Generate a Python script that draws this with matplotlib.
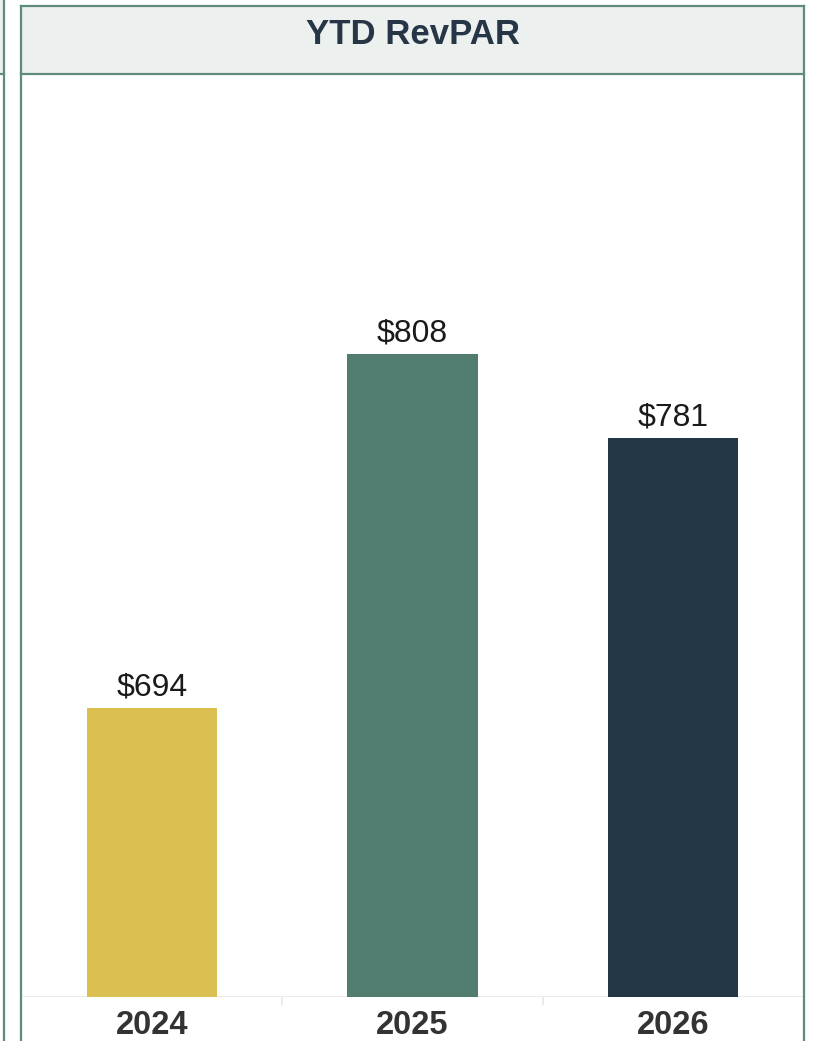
import matplotlib
matplotlib.use("Agg")
import matplotlib.pyplot as plt
from matplotlib.patches import Rectangle
from matplotlib.lines import Line2D

# Data
years = ["2024", "2025", "2026"]
revpar = [694, 808, 781]
value_labels = ["$694", "$808", "$781"]
bar_colors = ["#DBBF50", "#537C71", "#233646"]
title = "YTD RevPAR"

plt.rcParams["font.family"] = ["Liberation Sans", "DejaVu Sans"]

W, H = 813, 1041
fig = plt.figure(figsize=(W / 100, H / 100), dpi=100)
fig.patch.set_facecolor("white")


def fx(px):
    return px / W


def fy(py):
    return 1 - py / H


border = "#5F8B7E"
header_fill = "#ECF0EF"

# Neighbouring panel edge on the far left
fig.add_artist(Rectangle((0, fy(74)), fx(4), fy(0) - fy(74), transform=fig.transFigure,
                         facecolor=header_fill, edgecolor="none", zorder=0))
fig.add_artist(Line2D([fx(4), fx(4)], [fy(0), fy(1041)], transform=fig.transFigure,
                      color=border, lw=1.6))
fig.add_artist(Line2D([0, fx(4)], [fy(74), fy(74)], transform=fig.transFigure,
                      color=border, lw=1.6))

# Header band of the main panel
fig.add_artist(Rectangle((fx(21), fy(74)), fx(804) - fx(21), fy(6) - fy(74),
                         transform=fig.transFigure, facecolor=header_fill,
                         edgecolor="none", zorder=0))
fig.add_artist(Line2D([fx(21), fx(804)], [fy(74), fy(74)], transform=fig.transFigure,
                      color=border, lw=1.6))
fig.add_artist(Line2D([fx(21), fx(804)], [fy(6), fy(6)], transform=fig.transFigure,
                      color=border, lw=1.6))
fig.add_artist(Line2D([fx(21), fx(21)], [fy(6), fy(1041)], transform=fig.transFigure,
                      color=border, lw=1.6))
fig.add_artist(Line2D([fx(804), fx(804)], [fy(6), fy(1041)], transform=fig.transFigure,
                      color=border, lw=1.6))
fig.text(fx(413), fy(34), title, ha="center", va="center", fontsize=25,
         fontweight="bold", color="#263646")

# Bar chart area
ax = fig.add_axes([fx(22), fy(997), fx(803) - fx(22), fy(75) - fy(997)])
ax.set_facecolor("none")
x = list(range(len(years)))
bars = ax.bar(x, revpar, width=0.5, color=bar_colors, zorder=2)
ax.set_xlim(-0.5, len(years) - 0.5)
ax.set_ylim(601, 898)
ax.bar_label(bars, labels=value_labels, padding=4, fontsize=23, color="#1A1A1A")

for s in ax.spines.values():
    s.set_visible(False)
ax.axhline(601, color="#E8E8E8", lw=1.2, zorder=1)
ax.set_yticks([])
ax.set_xticks(x)
ax.set_xticklabels(years, fontsize=23.5, fontweight="bold", color="#333333")
ax.tick_params(axis="x", length=0, pad=9)
ax.set_xticks([0.5, 1.5], minor=True)
ax.tick_params(axis="x", which="minor", length=6, color="#E8E8E8", width=1.2)

fig.savefig("out.png", dpi=100)
